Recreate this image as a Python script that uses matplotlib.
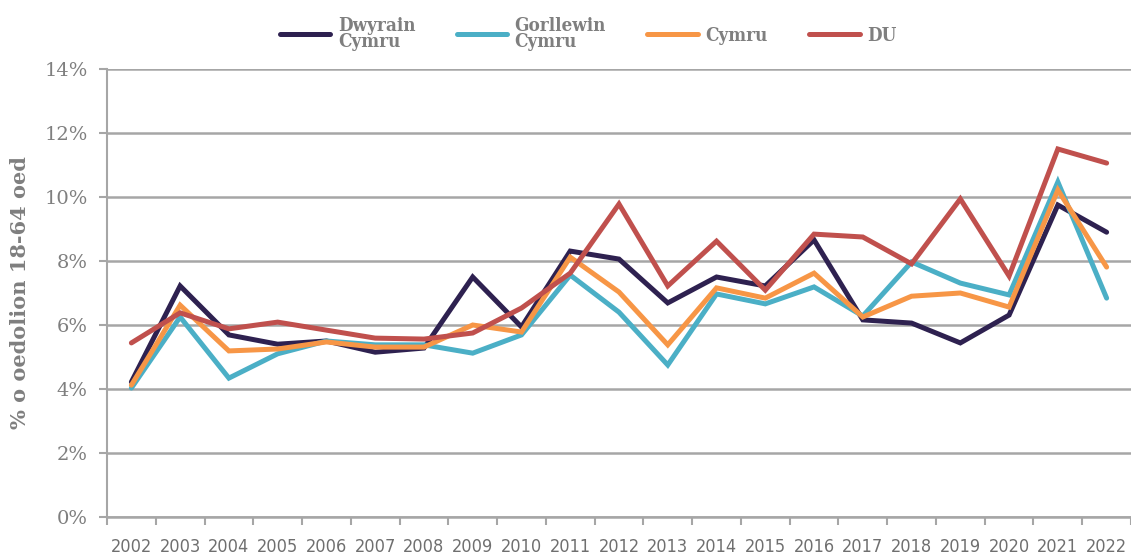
import numpy as np
import matplotlib
matplotlib.use("Agg")
from matplotlib import pyplot as plt

years = [str(y) for y in range(2002, 2023)]

dwyrain_cymru = [4.22, 7.22, 5.69, 5.40, 5.50, 5.15, 5.28, 7.50, 5.94, 8.31, 8.06,
                 6.69, 7.50, 7.22, 8.66, 6.16, 6.06, 5.44, 6.31, 9.75, 8.90]
gorllewin_cymru = [4.03, 6.25, 4.34, 5.10, 5.50, 5.38, 5.38, 5.12, 5.69, 7.56, 6.40,
                   4.75, 6.97, 6.66, 7.19, 6.28, 7.97, 7.31, 6.94, 10.47, 6.84]
cymru = [4.12, 6.62, 5.19, 5.25, 5.47, 5.31, 5.31, 6.00, 5.78, 8.12, 7.03,
         5.38, 7.16, 6.84, 7.62, 6.25, 6.90, 7.00, 6.56, 10.22, 7.81]
du = [5.44, 6.38, 5.88, 6.09, 5.84, 5.59, 5.56, 5.75, 6.53, 7.62, 9.78,
      7.22, 8.62, 7.09, 8.84, 8.75, 7.91, 9.94, 7.53, 11.50, 11.06]

series = [
    ("Dwyrain\nCymru", dwyrain_cymru, "#2e2150"),
    ("Gorllewin\nCymru", gorllewin_cymru, "#4bafc6"),
    ("Cymru", cymru, "#f79646"),
    ("DU", du, "#c0504d"),
]

grey = "#7f7f7f"
grid_grey = "#a6a6a6"

fig = plt.figure(figsize=(11.31, 5.56), dpi=100)
ax = fig.add_axes([107 / 1131, 1 - 517 / 556, 1 - 107 / 1131, (517 - 69) / 556])

x = np.arange(len(years))
for label, vals, col in series:
    ax.plot(x, vals, color=col, lw=3.6, label=label, solid_capstyle="round",
            solid_joinstyle="miter")

ax.set_xlim(-0.5, len(years) - 0.5)
ax.set_ylim(0, 14)
ax.set_yticks(range(0, 15, 2))
ax.set_yticklabels([f"{v}%" for v in range(0, 15, 2)], family="DejaVu Serif",
                   fontsize=14, color=grey)
ax.set_xticks(x)
ax.set_xticklabels(years, family="DejaVu Sans", fontstretch="condensed",
                   fontsize=13, color="#6f6f6f")
ax.set_xticks(np.arange(-0.5, len(years), 1), minor=True)
ax.tick_params(axis="x", which="major", length=0, pad=15)
ax.tick_params(axis="x", which="minor", length=6, color=grid_grey, width=1.5)
ax.tick_params(axis="y", length=6, color=grid_grey, width=1.5, pad=8)

ax.grid(axis="y", color=grid_grey, lw=1.8)
ax.set_axisbelow(True)
for s in ["top", "right"]:
    ax.spines[s].set_visible(False)
ax.spines["left"].set_color(grid_grey)
ax.spines["left"].set_linewidth(1.5)
ax.spines["bottom"].set_color(grid_grey)
ax.spines["bottom"].set_linewidth(1.8)

ax.set_ylabel("% o oedolion 18-64 oed", family="DejaVu Serif", fontweight="bold",
              fontsize=15, color=grey, labelpad=10)

leg = fig.legend(loc="upper center", bbox_to_anchor=(0.52, 1.0), ncol=4, frameon=False,
                 handlelength=2.7, handletextpad=0.4, columnspacing=2.2,
                 prop={"family": "DejaVu Serif", "stretch": "condensed", "size": 13.5,
                       "weight": "bold"})
for t in leg.get_texts():
    t.set_color(grey)
    t.set_linespacing(0.85)

fig.savefig("out.png", dpi=100)
